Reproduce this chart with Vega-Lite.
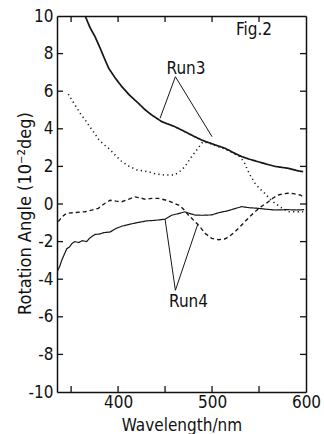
{
  "$schema": "https://vega.github.io/schema/vega-lite/v6.json",
  "width": 249,
  "height": 376,
  "autosize": {"type": "none"},
  "padding": {"left": 57, "top": 16, "right": 18, "bottom": 42},
  "background": "white",
  "config": {
    "view": {"stroke": null},
    "font": "DejaVu Sans Condensed",
    "axis": {
      "domainColor": "#111",
      "domainWidth": 1.5,
      "ticks": false,
      "tickSize": 0,
      "grid": false,
      "labelFont": "DejaVu Sans Condensed",
      "labelFontSize": 17,
      "labelColor": "#111",
      "labelFlush": false,
      "labelOverlap": false,
      "titleFont": "DejaVu Sans Condensed",
      "titleFontSize": 17,
      "titleFontWeight": "normal",
      "titleColor": "#111"
    }
  },
  "datasets": {
    "curves": [
      {"series": "r3s", "wl": 365, "v": 10.0}, {"series": "r3s", "wl": 370, "v": 9.4}, {"series": "r3s", "wl": 375.5, "v": 8.9}, {"series": "r3s", "wl": 381, "v": 8.28}, {"series": "r3s", "wl": 385, "v": 7.8}, {"series": "r3s", "wl": 390, "v": 7.22}, {"series": "r3s", "wl": 397, "v": 6.7}, {"series": "r3s", "wl": 404, "v": 6.24}, {"series": "r3s", "wl": 412, "v": 5.8}, {"series": "r3s", "wl": 421.6, "v": 5.36}, {"series": "r3s", "wl": 429, "v": 5.0}, {"series": "r3s", "wl": 436, "v": 4.73}, {"series": "r3s", "wl": 446.5, "v": 4.38}, {"series": "r3s", "wl": 460.6, "v": 4.11}, {"series": "r3s", "wl": 471, "v": 3.85}, {"series": "r3s", "wl": 480, "v": 3.62}, {"series": "r3s", "wl": 489, "v": 3.4}, {"series": "r3s", "wl": 500, "v": 3.2}, {"series": "r3s", "wl": 514, "v": 2.96}, {"series": "r3s", "wl": 522, "v": 2.75}, {"series": "r3s", "wl": 531.6, "v": 2.52}, {"series": "r3s", "wl": 540, "v": 2.38}, {"series": "r3s", "wl": 549, "v": 2.25}, {"series": "r3s", "wl": 558, "v": 2.12}, {"series": "r3s", "wl": 567, "v": 2.0}, {"series": "r3s", "wl": 581, "v": 1.9}, {"series": "r3s", "wl": 590, "v": 1.78}, {"series": "r3s", "wl": 597, "v": 1.72},

      {"series": "r3d", "wl": 347, "v": 5.85}, {"series": "r3d", "wl": 350, "v": 5.6}, {"series": "r3d", "wl": 355, "v": 5.2}, {"series": "r3d", "wl": 360, "v": 4.8}, {"series": "r3d", "wl": 365, "v": 4.47}, {"series": "r3d", "wl": 370, "v": 4.1}, {"series": "r3d", "wl": 375, "v": 3.76}, {"series": "r3d", "wl": 379, "v": 3.45}, {"series": "r3d", "wl": 385, "v": 3.15}, {"series": "r3d", "wl": 390, "v": 2.96}, {"series": "r3d", "wl": 397, "v": 2.6}, {"series": "r3d", "wl": 404, "v": 2.25}, {"series": "r3d", "wl": 412, "v": 2.0}, {"series": "r3d", "wl": 420, "v": 1.81}, {"series": "r3d", "wl": 432, "v": 1.72}, {"series": "r3d", "wl": 440, "v": 1.6}, {"series": "r3d", "wl": 450, "v": 1.54}, {"series": "r3d", "wl": 460, "v": 1.54}, {"series": "r3d", "wl": 465, "v": 1.7}, {"series": "r3d", "wl": 471, "v": 1.98}, {"series": "r3d", "wl": 478, "v": 2.5}, {"series": "r3d", "wl": 485, "v": 2.96}, {"series": "r3d", "wl": 490, "v": 3.3}, {"series": "r3d", "wl": 497, "v": 3.25}, {"series": "r3d", "wl": 505, "v": 3.08}, {"series": "r3d", "wl": 514, "v": 2.92}, {"series": "r3d", "wl": 522, "v": 2.72}, {"series": "r3d", "wl": 530, "v": 2.5}, {"series": "r3d", "wl": 535, "v": 2.15}, {"series": "r3d", "wl": 537, "v": 1.9}, {"series": "r3d", "wl": 541, "v": 1.5}, {"series": "r3d", "wl": 545.7, "v": 1.1}, {"series": "r3d", "wl": 550, "v": 0.85}, {"series": "r3d", "wl": 556, "v": 0.57}, {"series": "r3d", "wl": 561, "v": 0.3}, {"series": "r3d", "wl": 567, "v": 0.04}, {"series": "r3d", "wl": 574, "v": -0.2}, {"series": "r3d", "wl": 581, "v": -0.41}, {"series": "r3d", "wl": 590, "v": -0.42}, {"series": "r3d", "wl": 597, "v": -0.41},

      {"series": "r4d", "wl": 336.5, "v": -0.94}, {"series": "r4d", "wl": 340, "v": -0.7}, {"series": "r4d", "wl": 345, "v": -0.5}, {"series": "r4d", "wl": 355, "v": -0.45}, {"series": "r4d", "wl": 365, "v": -0.41}, {"series": "r4d", "wl": 372, "v": -0.33}, {"series": "r4d", "wl": 379, "v": -0.23}, {"series": "r4d", "wl": 385, "v": 0.0}, {"series": "r4d", "wl": 391.5, "v": 0.2}, {"series": "r4d", "wl": 398, "v": 0.15}, {"series": "r4d", "wl": 404, "v": 0.12}, {"series": "r4d", "wl": 411, "v": 0.25}, {"series": "r4d", "wl": 418, "v": 0.38}, {"series": "r4d", "wl": 424, "v": 0.32}, {"series": "r4d", "wl": 429, "v": 0.25}, {"series": "r4d", "wl": 436, "v": 0.3}, {"series": "r4d", "wl": 443, "v": 0.3}, {"series": "r4d", "wl": 453, "v": 0.18}, {"series": "r4d", "wl": 460, "v": 0.03}, {"series": "r4d", "wl": 466, "v": -0.1}, {"series": "r4d", "wl": 471, "v": -0.35}, {"series": "r4d", "wl": 475, "v": -0.6}, {"series": "r4d", "wl": 482, "v": -0.94}, {"series": "r4d", "wl": 487, "v": -1.2}, {"series": "r4d", "wl": 492.5, "v": -1.56}, {"series": "r4d", "wl": 499.7, "v": -1.83}, {"series": "r4d", "wl": 507, "v": -1.9}, {"series": "r4d", "wl": 514, "v": -1.85}, {"series": "r4d", "wl": 519, "v": -1.7}, {"series": "r4d", "wl": 524.5, "v": -1.47}, {"series": "r4d", "wl": 530, "v": -1.2}, {"series": "r4d", "wl": 535, "v": -0.94}, {"series": "r4d", "wl": 540, "v": -0.68}, {"series": "r4d", "wl": 545.7, "v": -0.41}, {"series": "r4d", "wl": 552, "v": -0.15}, {"series": "r4d", "wl": 560, "v": 0.12}, {"series": "r4d", "wl": 565, "v": 0.32}, {"series": "r4d", "wl": 570.5, "v": 0.48}, {"series": "r4d", "wl": 576, "v": 0.55}, {"series": "r4d", "wl": 581, "v": 0.57}, {"series": "r4d", "wl": 587, "v": 0.55}, {"series": "r4d", "wl": 593.6, "v": 0.48}, {"series": "r4d", "wl": 598, "v": 0.35},

      {"series": "r4s", "wl": 335, "v": -3.62}, {"series": "r4s", "wl": 338, "v": -3.3}, {"series": "r4s", "wl": 340, "v": -3.0}, {"series": "r4s", "wl": 343, "v": -2.65}, {"series": "r4s", "wl": 345.4, "v": -2.38}, {"series": "r4s", "wl": 348, "v": -2.3}, {"series": "r4s", "wl": 351, "v": -2.1}, {"series": "r4s", "wl": 354, "v": -2.0}, {"series": "r4s", "wl": 358, "v": -2.05}, {"series": "r4s", "wl": 362, "v": -1.95}, {"series": "r4s", "wl": 366.7, "v": -2.0}, {"series": "r4s", "wl": 370, "v": -1.8}, {"series": "r4s", "wl": 375.5, "v": -1.62}, {"series": "r4s", "wl": 380, "v": -1.6}, {"series": "r4s", "wl": 385, "v": -1.52}, {"series": "r4s", "wl": 391.5, "v": -1.49}, {"series": "r4s", "wl": 398, "v": -1.3}, {"series": "r4s", "wl": 404, "v": -1.18}, {"series": "r4s", "wl": 412, "v": -1.08}, {"series": "r4s", "wl": 421.6, "v": -0.98}, {"series": "r4s", "wl": 430, "v": -0.9}, {"series": "r4s", "wl": 439, "v": -0.87}, {"series": "r4s", "wl": 450, "v": -0.81}, {"series": "r4s", "wl": 457, "v": -0.6}, {"series": "r4s", "wl": 465, "v": -0.5}, {"series": "r4s", "wl": 471, "v": -0.42}, {"series": "r4s", "wl": 476, "v": -0.5}, {"series": "r4s", "wl": 482, "v": -0.59}, {"series": "r4s", "wl": 490, "v": -0.6}, {"series": "r4s", "wl": 499.7, "v": -0.58}, {"series": "r4s", "wl": 508, "v": -0.45}, {"series": "r4s", "wl": 517, "v": -0.36}, {"series": "r4s", "wl": 524, "v": -0.25}, {"series": "r4s", "wl": 531.6, "v": -0.14}, {"series": "r4s", "wl": 540, "v": -0.2}, {"series": "r4s", "wl": 549, "v": -0.23}, {"series": "r4s", "wl": 558, "v": -0.28}, {"series": "r4s", "wl": 567, "v": -0.32}, {"series": "r4s", "wl": 580, "v": -0.3}, {"series": "r4s", "wl": 590, "v": -0.32}, {"series": "r4s", "wl": 598, "v": -0.3}
    ],
    "pointers": [
      {"id": "run3", "ord": 1, "wl": 444.7, "v": 4.56},
      {"id": "run3", "ord": 2, "wl": 461, "v": 6.77},
      {"id": "run3", "ord": 3, "wl": 500, "v": 3.58},
      {"id": "run4", "ord": 1, "wl": 450, "v": -0.81},
      {"id": "run4", "ord": 2, "wl": 461, "v": -4.59},
      {"id": "run4", "ord": 3, "wl": 485, "v": -1.05}
    ],
    "labels": [
      {"text": "Run3", "wl": 472.3, "v": 7.18},
      {"text": "Run4", "wl": 475, "v": -5.21},
      {"text": "Fig.2", "wl": 544.7, "v": 9.26}
    ],
    "xticks": [{"wl": 350}, {"wl": 400}, {"wl": 450}, {"wl": 500}, {"wl": 550}],
    "yticks": [{"v": -8}, {"v": -6}, {"v": -4}, {"v": -2}, {"v": 0}, {"v": 2}, {"v": 4}, {"v": 6}, {"v": 8}]
  },
  "resolve": {"axis": {"x": "independent", "y": "independent"}},
  "layer": [
    {
      "data": {"name": "curves"},
      "mark": {"type": "line", "color": "#161616", "clip": true},
      "encoding": {
        "x": {
          "field": "wl", "type": "quantitative",
          "scale": {"domain": [335, 600], "nice": false, "zero": false},
          "axis": {
            "orient": "bottom",
            "values": [400, 500, 600],
            "labelPadding": 2,
            "title": "Wavelength/nm",
            "titleY": 38,
            "titleBaseline": "alphabetic"
          }
        },
        "y": {
          "field": "v", "type": "quantitative",
          "scale": {"domain": [-10, 10], "nice": false, "zero": false},
          "axis": {
            "orient": "left",
            "values": [-10, -8, -6, -4, -2, 0, 2, 4, 6, 8, 10],
            "labelExpr": "replace(datum.label, '\u2212', '-')",
            "labelPadding": 4,
            "title": "Rotation Angle (10\u207b\u00b2deg)",
            "titleFontSize": 18,
            "titleX": -27,
            "titleY": 197,
            "titleAngle": -90,
            "titleAlign": "center",
            "titleBaseline": "alphabetic"
          }
        },
        "detail": {"field": "series"},
        "strokeDash": {
          "field": "series", "type": "nominal", "legend": null,
          "scale": {"domain": ["r3s", "r3d", "r4d", "r4s"], "range": [[1, 0], [1.2, 3.3], [4, 3], [1, 0]]}
        },
        "strokeWidth": {
          "field": "series", "type": "nominal", "legend": null,
          "scale": {"domain": ["r3s", "r3d", "r4d", "r4s"], "range": [1.7, 1.2, 1.3, 1.7]}
        }
      }
    },
    {
      "data": {"name": "pointers"},
      "mark": {"type": "line", "color": "#161616", "strokeWidth": 1},
      "encoding": {
        "x": {"field": "wl", "type": "quantitative", "axis": null},
        "y": {"field": "v", "type": "quantitative", "axis": null},
        "detail": {"field": "id"},
        "order": {"field": "ord"}
      }
    },
    {
      "data": {"name": "labels"},
      "mark": {"type": "text", "font": "DejaVu Sans Condensed", "fontSize": 17, "color": "#111", "align": "center", "baseline": "middle"},
      "encoding": {
        "x": {"field": "wl", "type": "quantitative", "axis": null},
        "y": {"field": "v", "type": "quantitative", "axis": null},
        "text": {"field": "text"}
      }
    },
    {
      "data": {"name": "xticks"},
      "mark": {"type": "tick", "orient": "vertical", "size": 12, "thickness": 1.3, "color": "#111", "opacity": 1, "clip": true},
      "encoding": {
        "x": {"field": "wl", "type": "quantitative", "axis": null},
        "y": {"datum": -10, "type": "quantitative", "axis": null}
      }
    },
    {
      "data": {"name": "xticks"},
      "mark": {"type": "tick", "orient": "vertical", "size": 12, "thickness": 1.3, "color": "#111", "opacity": 1, "clip": true},
      "encoding": {
        "x": {"field": "wl", "type": "quantitative", "axis": null},
        "y": {"datum": 10, "type": "quantitative", "axis": null}
      }
    },
    {
      "data": {"name": "yticks"},
      "mark": {"type": "tick", "orient": "horizontal", "size": 12, "thickness": 1.3, "color": "#111", "opacity": 1, "clip": true},
      "encoding": {
        "y": {"field": "v", "type": "quantitative", "axis": null},
        "x": {"datum": 335, "type": "quantitative", "axis": null}
      }
    },
    {
      "data": {"name": "yticks"},
      "mark": {"type": "tick", "orient": "horizontal", "size": 12, "thickness": 1.3, "color": "#111", "opacity": 1, "clip": true},
      "encoding": {
        "y": {"field": "v", "type": "quantitative", "axis": {"orient": "right", "labels": false, "title": null, "values": []}},
        "x": {"datum": 600, "type": "quantitative", "axis": {"orient": "top", "labels": false, "title": null, "values": []}}
      }
    }
  ]
}
